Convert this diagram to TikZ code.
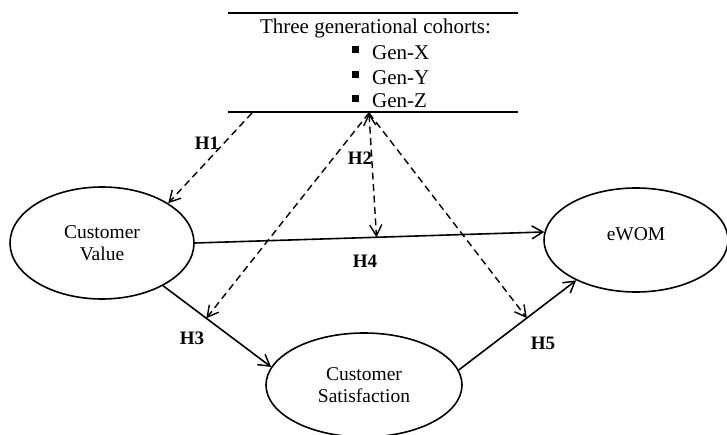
\documentclass[tikz,border=0pt]{standalone}
\usepackage{fontspec}
\setmainfont{Liberation Serif}
\usetikzlibrary{shapes.geometric,arrows.meta}
\begin{document}
\begin{tikzpicture}[x=1pt,y=-1pt,
  every node/.style={inner sep=0pt},
  latent/.style={draw,ellipse,line width=1.6pt,align=center,font=\fontsize{19.5}{22}\selectfont},
  hyp/.style={font=\fontsize{19}{21}\selectfont\bfseries},
  path/.style={line width=1.6pt,-{Straight Barb[length=11pt,width=13pt,line width=1.5pt]}},
  moder/.style={line width=1.4pt,dash pattern=on 7pt off 4.5pt,-{Straight Barb[length=11pt,width=12pt,line width=1.4pt]}},
  rule/.style={line width=1.3pt},
  gen/.style={anchor=base west,font=\fontsize{21}{25}\selectfont},
  bul/.style={fill,minimum size=7pt}]
\useasboundingbox (0,0) rectangle (727,435);
% top box
\coordinate (tl) at (228,13); \coordinate (tr) at (518,13);
\coordinate (bl) at (228,112); \coordinate (br) at (518,112);
\draw[rule] (tl) -- (tr);
\draw[rule] (bl) -- (br);
\node[anchor=base,font=\fontsize{21}{25}\selectfont] (title) at (375.5,34) {Three generational cohorts:};
\node[bul] (b1) at (355,50) {};
\node[bul] (b2) at (355,75) {};
\node[bul] (b3) at (355,99) {};
\node[gen] (gx) at (372,60) {Gen-X};
\node[gen] (gy) at (372,85) {Gen-Y};
\node[gen] (gz) at (372,108) {Gen-Z};
% constructs
\node[latent,minimum width=184pt,minimum height=112pt] (cv) at (102,243) {Customer\\Value};
\node[latent,minimum width=184pt,minimum height=104pt,
  label={[font=\fontsize{19.5}{22}\selectfont,yshift=6pt]center:eWOM}] (ewom) at (636,240) {};
\node[latent,minimum width=196pt,minimum height=104pt] (cs) at (364,385) {Customer\\Satisfaction};
% main paths
\draw[path] (cv.east) -- coordinate[pos=0.52] (m4) (ewom.175);
\draw[path] (cv.-35) -- coordinate[pos=0.4] (m3) (cs.169);
\draw[path] (cs.9) -- coordinate[pos=0.58] (m5) (ewom.214);
% moderation
\coordinate (h1s) at (252,113);
\coordinate (apex) at (369,113);
\draw[moder] (h1s) -- (cv.31);
\draw[moder] (apex) -- (m3);
\draw[moder,{Straight Barb[length=11pt,width=12pt,line width=1.4pt]}-{Straight Barb[length=11pt,width=12pt,line width=1.4pt]}] (apex) -- (m4);
\draw[moder] (apex) -- (m5);
% labels
\node[hyp] (h1) at (207,143) {H1};
\node[hyp] (h2) at (360,158) {H2};
\node[hyp] (h3) at (192,338) {H3};
\node[hyp] (h4) at (365,261) {H4};
\node[hyp] (h5) at (543,343) {H5};
\end{tikzpicture}
\end{document}
